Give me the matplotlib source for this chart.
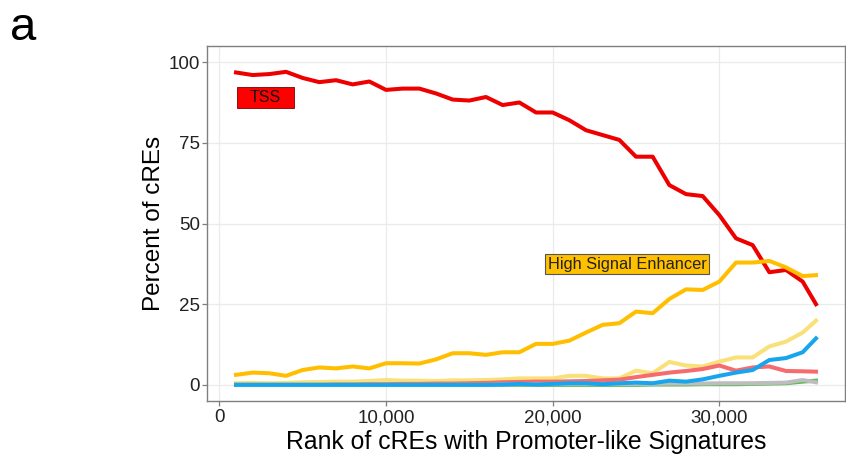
import matplotlib
matplotlib.use("Agg")
import matplotlib.pyplot as plt
from matplotlib.patches import Rectangle

plt.rcParams['font.family'] = ['Liberation Sans', 'DejaVu Sans']

rank = [1000, 2000, 3000, 4000, 5000, 6000, 7000, 8000, 9000, 10000,
        11000, 12000, 13000, 14000, 15000, 16000, 17000, 18000, 19000, 20000,
        21000, 22000, 23000, 24000, 25000, 26000, 27000, 28000, 29000, 30000,
        31000, 32000, 33000, 34000, 35000, 35800]

tss = [96.8, 96.0, 96.3, 97.0, 95.1, 93.8, 94.4, 93.1, 94.0, 91.4,
       91.8, 91.8, 90.3, 88.4, 88.1, 89.2, 86.7, 87.5, 84.4, 84.4,
       82.0, 78.9, 77.4, 75.9, 70.7, 70.7, 61.9, 59.1, 58.5, 52.6,
       45.4, 43.3, 34.9, 35.6, 32.0, 25.0]

high_enh = [3.1, 3.8, 3.6, 2.8, 4.6, 5.4, 5.1, 5.7, 5.1, 6.7,
            6.7, 6.6, 7.9, 9.8, 9.8, 9.3, 10.1, 10.1, 12.7, 12.7,
            13.7, 16.2, 18.6, 19.1, 22.7, 22.2, 26.6, 29.6, 29.4, 32.0,
            37.9, 37.9, 38.4, 36.4, 33.7, 34.0]

low_enh = [0.5, 0.6, 0.5, 0.6, 0.8, 0.9, 1.0, 1.0, 1.2, 1.5,
           1.3, 1.3, 1.2, 1.4, 1.4, 1.5, 1.7, 2.0, 2.0, 2.0,
           2.8, 2.8, 2.0, 2.0, 4.4, 3.6, 7.1, 6.0, 5.7, 7.2,
           8.5, 8.5, 11.9, 13.4, 16.2, 19.9]

other_red = [0.0, 0.0, 0.0, 0.0, 0.0, 0.0, 0.1, 0.1, 0.2, 0.2,
             0.3, 0.3, 0.4, 0.4, 0.5, 0.6, 0.8, 0.9, 1.0, 1.0,
             1.1, 1.2, 1.4, 1.6, 2.4, 3.1, 3.8, 4.3, 4.9, 6.0,
             4.4, 5.4, 5.7, 4.3, 4.2, 4.1]

green = [0.0, 0.0, 0.0, 0.0, 0.0, 0.0, 0.0, 0.0, 0.0, 0.0,
         0.0, 0.0, 0.0, 0.0, 0.0, 0.0, 0.0, 0.0, 0.0, 0.0,
         0.0, 0.0, 0.0, 0.0, 0.0, 0.1, 0.1, 0.1, 0.2, 0.2,
         0.2, 0.3, 0.4, 0.5, 1.0, 1.3]

gray = [0.0, 0.0, 0.0, 0.0, 0.0, 0.0, 0.0, 0.0, 0.0, 0.0,
        0.0, 0.0, 0.0, 0.0, 0.0, 0.0, 0.1, 0.2, 0.2, 0.3,
        0.3, 0.3, 0.3, 0.3, 0.3, 0.3, 0.4, 0.4, 0.4, 0.5,
        0.5, 0.5, 0.6, 0.7, 1.5, 0.8]

blue = [0.0, 0.0, 0.0, 0.0, 0.0, 0.0, 0.0, 0.0, 0.0, 0.0,
        0.0, 0.0, 0.0, 0.0, 0.0, 0.0, 0.1, 0.3, 0.1, 0.3,
        0.5, 0.5, 0.2, 0.5, 0.7, 0.5, 1.3, 1.0, 1.7, 2.8,
        3.8, 4.6, 7.7, 8.3, 10.1, 14.4]

x_ticks = [0, 10000, 20000, 30000]
x_ticklabels = ["0", "10,000", "20,000", "30,000"]
y_ticks = [0, 25, 50, 75, 100]

fig = plt.figure(figsize=(8.46, 4.58), dpi=100)
ax = fig.add_axes([207/846, 1 - 401/458, (845-207)/846, (401-46)/458])

lw = 2.9
ax.plot(rank, tss, color="#EE0000", lw=lw, zorder=3)
ax.plot(rank, high_enh, color="#FFBF00", lw=lw, zorder=3)
ax.plot(rank, low_enh, color="#F9E079", lw=lw, zorder=3)
ax.plot(rank, other_red, color="#F56B6E", lw=lw, zorder=3)
ax.plot(rank, green, color="#5CB85C", lw=lw, zorder=3)
ax.plot(rank, gray, color="#BDBDBD", lw=lw, zorder=3)
ax.plot(rank, blue, color="#17A6EE", lw=lw, zorder=3)

# label boxes
ax.add_patch(Rectangle((1080, 85.9), 3410, 6.3, fc="#FF0000", ec="#7A0000",
                       lw=0.6, zorder=5))
ax.text(2780, 89.0, "TSS", fontsize=11.5, color="#111111", ha="center",
        va="center", zorder=6)
ax.add_patch(Rectangle((19520, 34.3), 9880, 6.3, fc="#FFC000", ec="#555555",
                       lw=0.8, zorder=5))
ax.text(24460, 37.4, "High Signal Enhancer", fontsize=11.8, color="#222222",
        ha="center", va="center", zorder=6)

ax.set_xlim(-740, 37540)
ax.set_ylim(-5, 105)
ax.set_xticks(x_ticks)
ax.set_xticklabels(x_ticklabels)
ax.set_yticks(y_ticks)
ax.grid(True, color="#EBEBEB", lw=0.9, zorder=0)
ax.set_axisbelow(True)
for s in ax.spines.values():
    s.set_color("#7F7F7F")
    s.set_linewidth(1.0)
ax.tick_params(axis='both', colors="#7F7F7F", labelcolor="#222222",
               labelsize=13.5, length=3.5, width=0.9)
ax.tick_params(axis='y', pad=1.5)
ax.tick_params(axis='x', pad=2.5)
ax.set_xlabel("Rank of cREs with Promoter-like Signatures", fontsize=17.8, labelpad=3)
ax.set_ylabel("Percent of cREs", fontsize=17.5, labelpad=3)

fig.text(10/846, 1 - 40/458, "a", fontsize=34, color="black", ha="left", va="baseline")

fig.savefig("out.png", dpi=100)
